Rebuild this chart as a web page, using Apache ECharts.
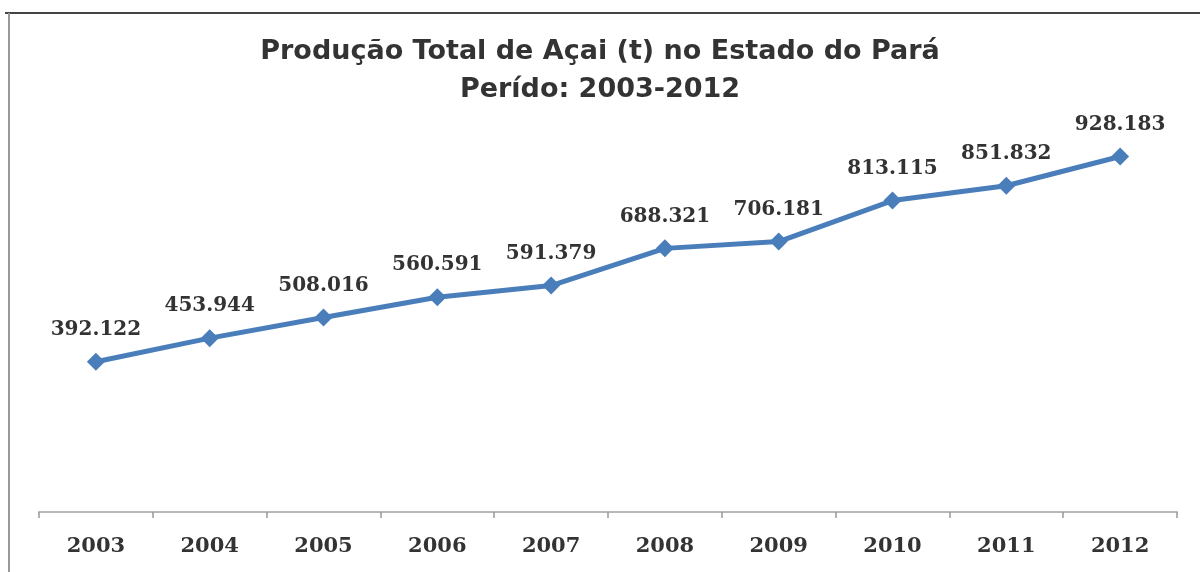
<!DOCTYPE html>
<html>
<head>
<meta charset="utf-8">
<script src="https://cdn.jsdelivr.net/npm/echarts@6/dist/echarts.min.js"></script>
<style>
  html, body { margin: 0; padding: 0; background: #fff; }
  #chart { width: 1200px; height: 572px; }
</style>
</head>
<body>
<div id="chart"></div>
<script>
// Produção de açaí no Pará, em toneladas
const anos = ['2003', '2004', '2005', '2006', '2007', '2008', '2009', '2010', '2011', '2012'];
const producao = [392.122, 453.944, 508.016, 560.591, 591.379, 688.321, 706.181, 813.115, 851.832, 928.183];

// Rótulos com três casas após o ponto
function formatar(v) {
  return v.toFixed(3);
}

const chart = echarts.init(document.getElementById('chart'));
chart.setOption({
  backgroundColor: '#ffffff',
  animation: false,
  title: {
    text: 'Produção Total de Açai (t) no Estado do Pará\nPerído: 2003-2012',
    left: 'center',
    top: 28,
    textStyle: {
      fontFamily: 'DejaVu Sans',
      fontWeight: 'bold',
      fontSize: 27,
      lineHeight: 38,
      color: '#333333'
    }
  },
  graphic: [
    { type: 'line', shape: { x1: 5, y1: 13, x2: 1200, y2: 13 }, style: { stroke: '#444', lineWidth: 2 } },
    { type: 'line', shape: { x1: 9, y1: 13, x2: 9, y2: 572 }, style: { stroke: '#999', lineWidth: 2 } }
  ],
  grid: { left: 39, right: 23, top: 129, bottom: 60 },
  xAxis: {
    type: 'category',
    data: anos,
    boundaryGap: true,
    axisLine: { lineStyle: { color: '#b8b8b8', width: 2 } },
    axisTick: { show: true, length: 6, lineStyle: { color: '#999', width: 1.5 } },
    axisLabel: {
      margin: 24,
      fontFamily: 'DejaVu Serif',
      fontWeight: 'bold',
      fontSize: 21,
      color: '#333'
    }
  },
  yAxis: {
    type: 'value',
    min: 0,
    max: 1000,
    show: false,
    splitLine: { show: false }
  },
  series: [{
    type: 'line',
    data: producao,
    symbol: 'diamond',
    symbolSize: 18,
    lineStyle: { color: '#4a7ebb', width: 5 },
    itemStyle: { color: '#4a7ebb' },
    label: {
      show: true,
      position: 'top',
      distance: 13,
      formatter: p => formatar(p.value),
      fontFamily: 'DejaVu Serif',
      fontWeight: 'bold',
      fontSize: 20,
      color: '#333'
    }
  }]
});
</script>
</body>
</html>
